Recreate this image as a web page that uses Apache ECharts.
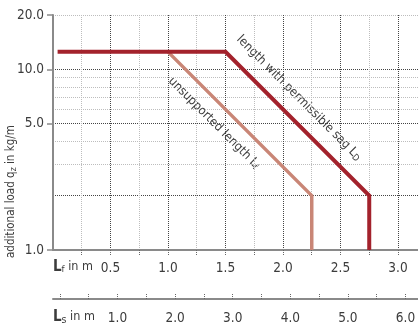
<!DOCTYPE html>
<html>
<head>
<meta charset="utf-8">
<script src="https://cdn.jsdelivr.net/npm/echarts@6/dist/echarts.min.js"></script>
<style>
html, body { margin: 0; padding: 0; background: #fff; }
#chart { width: 418px; height: 325px; }
</style>
</head>
<body>
<div id="chart"></div>
<script>
// Lf axis (m): labels and grid lines every 0.25
var lfLabels = [0.5, 1.0, 1.5, 2.0, 2.5, 3.0];
var lfGrid = [0.25, 0.5, 0.75, 1.0, 1.25, 1.5, 1.75, 2.0, 2.25, 2.5, 2.75, 3.0];
// Ls axis (m)
var lsTicks = [0, 0.5, 1.0, 1.5, 2.0, 2.5, 3.0, 3.5, 4.0, 4.5, 5.0, 5.5, 6.0];
var lsLabels = [1.0, 2.0, 3.0, 4.0, 5.0, 6.0];
// additional load (kg/m), log axis
var yLabels = [1, 5, 10, 20];
var yMinor = [2, 3, 4, 6, 7, 8, 9];
// curves [Lf, load]
var sagLength = [[0.04, 12.5], [1.5, 12.5], [2.75, 2], [2.75, 1]];
var unsupportedLength = [[1.0, 12.5], [2.25, 2], [2.25, 1]];

var font = '"Liberation Sans Narrow", "DejaVu Sans Condensed", sans-serif';
var txt = '#3c3c3c';
var axisGray = '#8a8a8a';
var dark = '#444';
var light = '#bdbdbd';

var chart = echarts.init(document.getElementById('chart'));
chart.setOption({
  animation: false,
  grid: { left: 53, right: 0, top: 15, bottom: 75, outerBoundsMode: 'none' },
  xAxis: [
    {
      type: 'value', min: 0, max: 3.174, position: 'bottom',
      axisLine: { onZero: false, lineStyle: { color: axisGray, width: 2 } },
      axisTick: { customValues: lfGrid, length: 5, lineStyle: { type: 'dotted', color: '#666' } },
      axisLabel: { customValues: lfLabels, formatter: function (v) { return v.toFixed(1); },
        color: txt, fontSize: 13.5, fontFamily: font, margin: 11 },
      splitLine: { show: true, lineStyle: { type: 'dotted', color: [light, dark] } }
    },
    {
      type: 'value', min: -0.12, max: 6.217, position: 'bottom', offset: 49,
      axisLine: { onZero: false, lineStyle: { color: axisGray, width: 2 } },
      axisTick: { customValues: lsTicks, inside: true, length: 6, lineStyle: { type: 'dotted', color: '#666' } },
      axisLabel: { customValues: lsLabels, formatter: function (v) { return v.toFixed(1); },
        color: txt, fontSize: 13.5, fontFamily: font, margin: 12 },
      splitLine: { show: false }
    }
  ],
  yAxis: [
    {
      type: 'log', logBase: 10, min: 1, max: 20,
      axisLine: { show: true, lineStyle: { color: axisGray, width: 2 } },
      axisTick: { show: true, length: 6, customValues: yLabels, lineStyle: { color: axisGray, width: 1.5 } },
      axisLabel: { customValues: yLabels, formatter: function (v) { return (+v).toFixed(1); },
        color: txt, fontSize: 13.5, fontFamily: font, margin: 9 },
      splitLine: { show: true, lineStyle: { type: 'dotted', color: [dark, dark, dark, light] } }
    },
    {
      type: 'log', logBase: 10, min: 1, max: 20, position: 'left',
      axisLine: { show: false },
      axisTick: { show: false, customValues: yMinor },
      axisLabel: { show: false },
      splitLine: { show: true, lineStyle: { type: 'dotted', color: [dark, light, light, light, light, light, light] } }
    }
  ],
  series: [
    {
      type: 'line', data: unsupportedLength, xAxisIndex: 0, yAxisIndex: 0,
      symbol: 'none', silent: true, z: 3,
      lineStyle: { color: '#c98676', width: 3.5, join: 'miter' }
    },
    {
      type: 'line', data: sagLength, xAxisIndex: 0, yAxisIndex: 0,
      symbol: 'none', silent: true, z: 4,
      lineStyle: { color: '#a3222c', width: 4, join: 'miter' }
    }
  ],
  graphic: [
    {
      type: 'text', x: 53, y: 267,
      style: { text: '{L|L}{s|f} in m', fill: txt, font: '12.5px ' + font, verticalAlign: 'middle',
        rich: { L: { fontSize: 15, fontWeight: 'bold', fontFamily: font, fill: txt },
                s: { fontSize: 9.5, fontFamily: font, fill: txt, verticalAlign: 'bottom', padding: [6, 0, 0, 0] } } }
    },
    {
      type: 'text', x: 53, y: 317,
      style: { text: '{L|L}{s|s} in m', fill: txt, font: '12.5px ' + font, verticalAlign: 'middle',
        rich: { L: { fontSize: 15, fontWeight: 'bold', fontFamily: font, fill: txt },
                s: { fontSize: 10.5, fontFamily: font, fill: txt, verticalAlign: 'bottom', padding: [6, 0, 0, 0] } } }
    },
    {
      type: 'text', x: 11, y: 258, rotation: Math.PI / 2,
      style: { text: 'additional load q{s|z} in kg/m', fill: txt, font: '11.5px ' + font,
        align: 'left', verticalAlign: 'middle',
        rich: { s: { fontSize: 8.5, fontFamily: font, fill: txt, verticalAlign: 'bottom', padding: [5, 0, 0, 0] } } }
    },
    {
      type: 'text', x: 299, y: 98, rotation: -Math.PI / 4,
      style: { text: 'length with permissible sag L{s|D}', fill: txt, font: '12.5px ' + font,
        align: 'center', verticalAlign: 'middle',
        rich: { s: { fontSize: 9, fontFamily: font, fill: txt, verticalAlign: 'bottom', padding: [5, 0, 0, 0] } } }
    },
    {
      type: 'text', x: 214, y: 123, rotation: -Math.PI / 4,
      style: { text: 'unsupported length L{s|f}', fill: txt, font: '12.5px ' + font,
        align: 'center', verticalAlign: 'middle',
        rich: { s: { fontSize: 9, fontFamily: font, fill: txt, verticalAlign: 'bottom', padding: [5, 0, 0, 0] } } }
    }
  ]
});
</script>
</body>
</html>
